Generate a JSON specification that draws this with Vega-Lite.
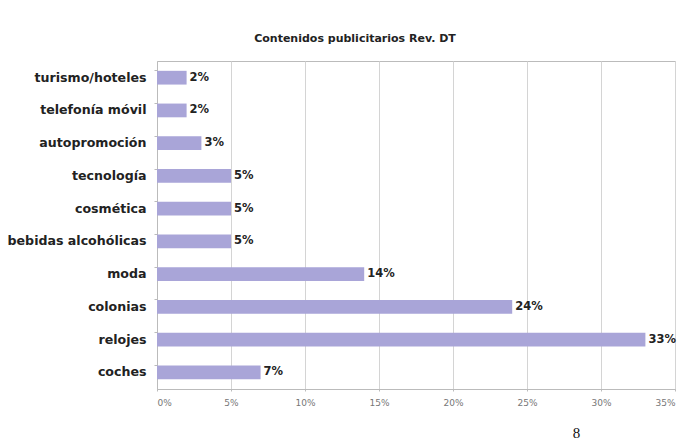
{
  "$schema": "https://vega.github.io/schema/vega-lite/v6.json",
  "width": 518,
  "height": 328,
  "padding": {"left": 7, "top": 33, "right": 10, "bottom": 5},
  "background": "white",
  "title": {
    "text": "Contenidos publicitarios Rev. DT",
    "font": "DejaVu Sans",
    "fontSize": 11,
    "fontWeight": "bold",
    "color": "#222222",
    "anchor": "middle",
    "frame": "group",
    "dx": -61,
    "offset": 17
  },
  "data": {
    "values": [
      {"categoria": "turismo/hoteles", "valor": 0.02},
      {"categoria": "telefonía móvil", "valor": 0.02},
      {"categoria": "autopromoción", "valor": 0.03},
      {"categoria": "tecnología", "valor": 0.05},
      {"categoria": "cosmética", "valor": 0.05},
      {"categoria": "bebidas alcohólicas", "valor": 0.05},
      {"categoria": "moda", "valor": 0.14},
      {"categoria": "colonias", "valor": 0.24},
      {"categoria": "relojes", "valor": 0.33},
      {"categoria": "coches", "valor": 0.07}
    ]
  },
  "encoding": {
    "y": {
      "field": "categoria",
      "type": "nominal",
      "sort": null,
      "scale": {"paddingInner": 0.58, "paddingOuter": 0.3},
      "axis": {
        "title": null,
        "labelFont": "DejaVu Sans",
        "labelFontSize": 12.6,
        "labelFontWeight": "bold",
        "labelColor": "#222222",
        "labelPadding": 8,
        "domainColor": "#bbbbbb",
        "tickColor": "#bbbbbb",
        "tickSize": 3,
        "bandPosition": 0
      }
    },
    "x": {
      "field": "valor",
      "type": "quantitative",
      "scale": {"domain": [0, 0.35], "nice": false},
      "axis": {
        "values": [0, 0.05, 0.1, 0.15, 0.2, 0.25, 0.3, 0.35],
        "format": ".0%",
        "labelFont": "DejaVu Sans",
        "labelFontSize": 9,
        "labelColor": "#777777",
        "labelPadding": 7,
        "domainColor": "#bbbbbb",
        "tickColor": "#bbbbbb",
        "tickSize": 2,
        "gridColor": "#d4d4d4",
        "title": "8",
        "titleFont": "Liberation Serif",
        "titleFontSize": 15,
        "titleFontWeight": "normal",
        "titleColor": "#111111",
        "titleX": 419,
        "titleY": 36
      }
    }
  },
  "layer": [
    {"mark": {"type": "bar", "color": "#a9a5d8"}},
    {
      "mark": {
        "type": "text",
        "align": "left",
        "baseline": "middle",
        "dx": 3,
        "font": "DejaVu Sans",
        "fontSize": 11.5,
        "fontWeight": "bold",
        "color": "#222222"
      },
      "encoding": {"text": {"field": "valor", "type": "quantitative", "format": ".0%"}}
    }
  ],
  "config": {
    "view": {"stroke": "#bbbbbb"}
  }
}
